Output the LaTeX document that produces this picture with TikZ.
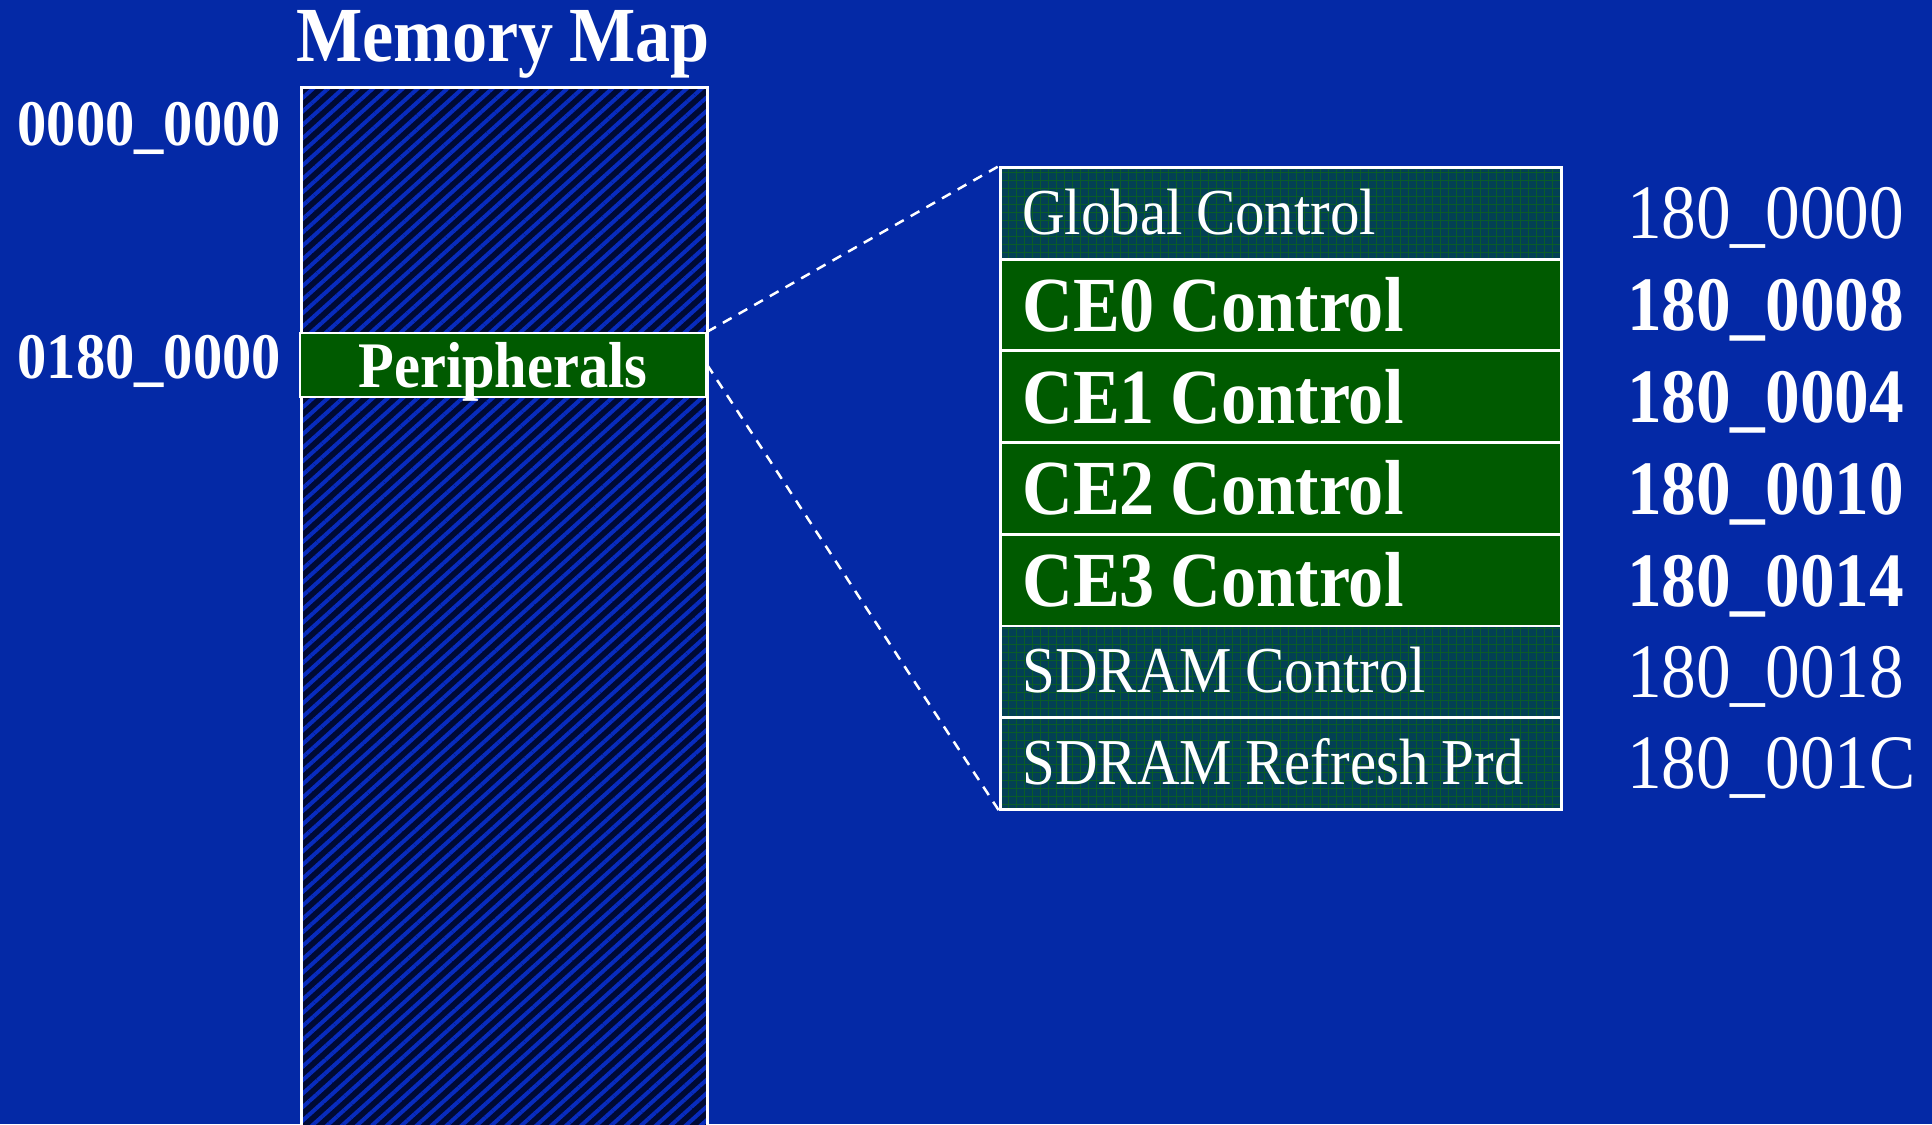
\documentclass[tikz,border=0pt]{standalone}
\usepackage{fontspec}
\setmainfont[FakeStretch=0.9,WordSpace=0.9]{Liberation Serif}
\usepackage{xcolor}
\usetikzlibrary{patterns.meta,positioning}

\definecolor{slideblue}{RGB}{4,41,166}
\definecolor{memnavy}{RGB}{0,10,52}
\definecolor{stripeblue}{RGB}{8,44,190}
\definecolor{regteal}{RGB}{3,64,84}
\definecolor{gridgreen}{RGB}{10,92,40}
\definecolor{cegreen}{RGB}{0,90,0}

\begin{document}
\begin{tikzpicture}[x=1pt, y=-1pt,
  memblock/.style={preaction={fill=memnavy},
    preaction={pattern={Lines[angle=42,distance=10pt,line width=4pt]},
      pattern color=stripeblue},
    draw=white, line width=2.5pt},
  periph/.style={draw=white, line width=2.5pt, fill=cegreen, text=white,
    font=\fontsize{65}{70}\selectfont\bfseries, inner sep=0pt,
    text height=44pt, text depth=0pt},
  rowbox/.style={draw=white, line width=2.8pt, anchor=north west,
    text width=517pt, inner xsep=22pt, inner ysep=0pt, align=flush left,
    minimum height=91.7pt, text depth=0pt, text=white},
  regrow/.style={rowbox, preaction={fill=regteal},
    preaction={pattern={Hatch[angle=0,distance=8pt,line width=0.6pt]},
      pattern color=gridgreen},
    font=\fontsize{65.5}{68}\selectfont, text height=42pt},
  cerow/.style={rowbox, fill=cegreen,
    font=\fontsize{78}{82}\selectfont\bfseries, text height=53pt},
  addr/.style={inner sep=0pt, text=white, text depth=0pt,
    font=\fontsize{77}{80}\selectfont, text height=51pt},
  addrbold/.style={addr, font=\fontsize{77}{80}\selectfont\bfseries,
    text height=52pt},
  mark label/.style={anchor=east, inner sep=0pt, text=white,
    font=\fontsize{65}{70}\selectfont\bfseries, text height=44pt,
    text depth=0pt},
  zoomline/.style={draw=white, line width=2.5pt, dash pattern=on 10pt off 8pt}]

  \useasboundingbox (0,0) rectangle (1932,1124);
  \clip (0,0) rectangle (1932,1124);
  \fill[slideblue] (0,0) rectangle (1932,1124);

  % memory column
  \node[memblock, anchor=north west, minimum width=406pt,
    minimum height=1080pt, inner sep=0pt] (mem) at (300,86) {};
  \node[anchor=base, text=white, font=\fontsize{78}{80}\selectfont\bfseries]
    (title) at (503,62) {Memory Map};
  \node[periph, minimum width=406pt, minimum height=64pt] (per) at (503,365)
    {Peripherals};

  % addresses on the left
  \node[mark label] (base0) at (281,123) {0000\_0000};
  \node[mark label] (base1) at (281,356) {0180\_0000};

  % register table
  \node[regrow] (gc)   at (999,166)   {Global Control};
  \node[cerow]  (ce0)  at (999,257.7) {CE0 Control};
  \node[cerow]  (ce1)  at (999,349.4) {CE1 Control};
  \node[cerow]  (ce2)  at (999,441.1) {CE2 Control};
  \node[cerow]  (ce3)  at (999,532.8) {CE3 Control};
  \node[regrow] (sdc)  at (999,624.5) {SDRAM Control};
  \node[regrow] (sdrp) at (999,716.2) {SDRAM Refresh Prd};

  % register addresses
  \node[addr, right=64pt of gc]       (agc)   {180\_0000};
  \node[addrbold, right=64pt of ce0]  (ace0)  {180\_0008};
  \node[addrbold, right=64pt of ce1]  (ace1)  {180\_0004};
  \node[addrbold, right=64pt of ce2]  (ace2)  {180\_0010};
  \node[addrbold, right=64pt of ce3]  (ace3)  {180\_0014};
  \node[addr, right=64pt of sdc]      (asdc)  {180\_0018};
  \node[addr, right=64pt of sdrp]     (asdrp) {180\_001C};

  % zoom lines
  \draw[zoomline] (per.north east) -- (gc.north west);
  \draw[zoomline] (per.east) -- (sdrp.south west);
\end{tikzpicture}
\end{document}
